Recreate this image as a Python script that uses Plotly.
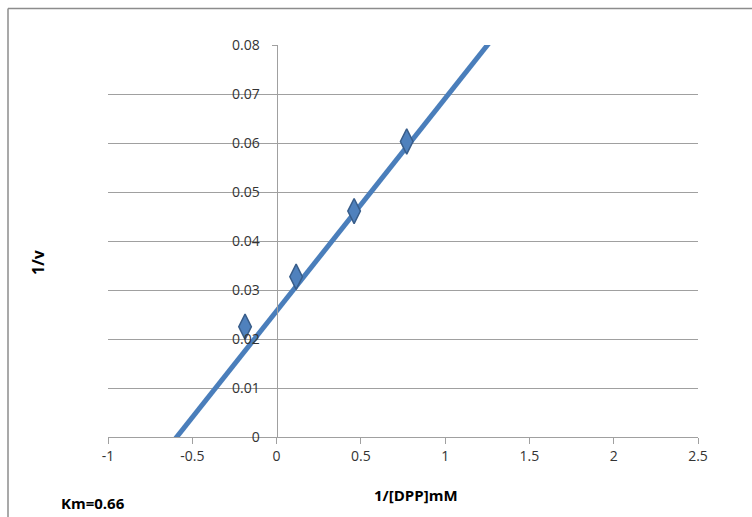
import plotly.graph_objects as go
import numpy as np

# Data
inv_dpp = [-0.187, 0.116, 0.460, 0.772]
inv_v = [0.0225, 0.0327, 0.0461, 0.0603]
trend_slope = 0.0434
trend_intercept = 0.0257
trend_x_range = [-0.8, 1.5]
x_tick_vals = [-1, -0.5, 0, 0.5, 1, 1.5, 2, 2.5]
x_tick_text = ["-1", "-0.5", "0", "0.5", "1", "1.5", "2", "2.5"]
y_tick_vals = [0, 0.01, 0.02, 0.03, 0.04, 0.05, 0.06, 0.07, 0.08]
y_tick_text = ["0", "0.01", "0.02", "0.03", "0.04", "0.05", "0.06", "0.07", "0.08"]

W, H = 752, 517
L, R, T, B = 108, 54, 45, 80
pw, ph = W - L - R, H - T - B

def px(x):
    return (x - L) / pw

def py(y):
    return (H - B - y) / ph

tx = np.array(trend_x_range)
ty = trend_intercept + trend_slope * tx

fig = go.Figure()
fig.add_trace(go.Scatter(x=tx, y=ty, mode="lines",
                         line=dict(color="#4A7EBB", width=5),
                         hoverinfo="skip", showlegend=False))
fig.add_trace(go.Scatter(x=inv_dpp, y=inv_v, mode="markers",
                         marker=dict(symbol="diamond-tall", size=18, color="#4F81BD",
                                     line=dict(color="#385D8A", width=1.5)),
                         showlegend=False))

font = "Open Sans, Liberation Sans, sans-serif"
xmin, xmax = -1, 2.5
fig.update_layout(
    width=W, height=H,
    margin=dict(l=L, r=R, t=T, b=B),
    paper_bgcolor="white", plot_bgcolor="white",
    font=dict(family=font, size=12, color="#333333"),
    xaxis=dict(range=[xmin, xmax], tickvals=x_tick_vals, ticktext=x_tick_text,
               showgrid=False, zeroline=False, showline=True, linecolor="#A0A0A0",
               linewidth=1, ticks="outside", ticklen=6, tickcolor="#A0A0A0",
               tickfont=dict(size=14, color="#333333")),
    yaxis=dict(range=[0, 0.08], tickvals=y_tick_vals, ticktext=y_tick_text,
               showgrid=True, gridcolor="#A0A0A0", gridwidth=1, zeroline=False,
               showline=True, linecolor="#A0A0A0", linewidth=1,
               ticks="outside", ticklen=5, tickcolor="#A0A0A0",
               ticklabelstandoff=9,
               anchor="free", position=(0 - xmin) / (xmax - xmin),
               tickfont=dict(size=14, color="#333333")),
    annotations=[
        dict(text="<b>1/v</b>", x=px(38), y=py(262), xref="paper", yref="paper",
             xanchor="center", yanchor="middle",
             showarrow=False, textangle=-90, font=dict(size=16, color="#000000")),
        dict(text="<b>1/[DPP]mM</b>", x=px(416), y=py(495), xref="paper", yref="paper",
             xanchor="center", yanchor="middle",
             showarrow=False, font=dict(size=15, color="#000000")),
        dict(text="<b>Km=0.66</b>", x=px(93), y=py(503), xref="paper", yref="paper",
             xanchor="center", yanchor="middle",
             showarrow=False, font=dict(size=15, color="#000000")),
    ],
    shapes=[
        dict(type="line", xref="paper", yref="paper", x0=px(8), y0=py(8.5),
             x1=px(760), y1=py(8.5), line=dict(color="#8C8C8C", width=1.5)),
        dict(type="line", xref="paper", yref="paper", x0=px(8), y0=py(8.5),
             x1=px(8), y1=py(530), line=dict(color="#8C8C8C", width=1.5)),
    ],
)

fig.write_html("out.html")
